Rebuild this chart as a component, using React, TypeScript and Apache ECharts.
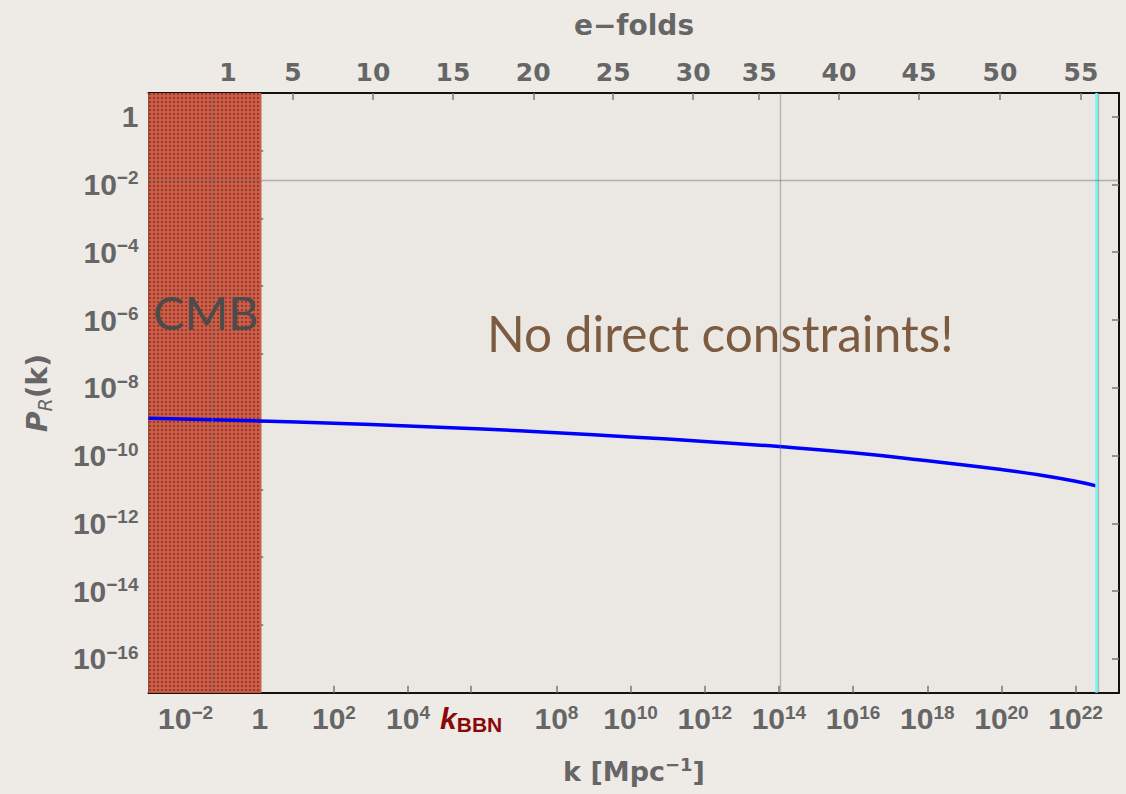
import React, { useEffect, useRef } from 'react';
import * as echarts from 'echarts';

// log10 k [Mpc^-1] and log10 P_R(k)
const logK = [-3, -1, 0, 2, 4, 6, 8, 10, 12, 14, 16, 18, 20, 21, 22, 22.55];
const logP = [-8.9, -8.95, -8.98, -9.048, -9.126, -9.218, -9.326, -9.45, -9.586, -9.736, -9.92, -10.154, -10.414, -10.569, -10.759, -10.894];

const xRange = [-3, 23.17];
const yRange = [-17, 0.7];
const cmbRange = [-3, 0.04];
const kBBN = 5.7;
const bottomTicks = [-2, 0, 2, 4, kBBN, 8, 10, 12, 14, 16, 18, 20, 22];
const majorY = [0, -2, -4, -6, -8, -10, -12, -14, -16];
const minorY = [-1, -3, -5, -7, -9, -11, -13, -15];
const efoldLabels = [1, 5, 10, 15, 20, 25, 30, 35, 40, 45, 50, 55];
const efoldLogK = [-0.857, 0.896, 3.053, 5.21, 7.375, 9.532, 11.689, 13.468, 15.617, 17.774, 19.958, 22.142];
const gridLinesX = [-1.28, 14.03, 22.6];
const gridLinesY = [-1.87];
const cyanLineX = 22.56;

const GRAY = '#666666';
const LS = '"Liberation Sans", Arial, sans-serif';
const DJ = '"DejaVu Sans", sans-serif';

const tickRich = {
  b: { fontSize: 30, fontWeight: 'bold', fontFamily: LS, color: GRAY, lineHeight: 32 },
  s: { fontSize: 19, fontWeight: 'bold', fontFamily: LS, color: GRAY, lineHeight: 15, verticalAlign: 'top' },
  kb: { fontSize: 30, fontWeight: 'bold', fontStyle: 'italic', fontFamily: LS, color: '#8a0808', lineHeight: 32 },
  ks: { fontSize: 21, fontWeight: 'bold', fontFamily: LS, color: '#8a0808', lineHeight: 18, verticalAlign: 'bottom' },
};

function powLabel(v: number) {
  if (Math.abs(v - kBBN) < 1e-6) return '{kb|k}{ks|BBN}';
  const e = Math.round(v);
  if (e === 0) return '{b|1}';
  return '{b|10}{s|' + (e < 0 ? '\u2212' + -e : String(e)) + '}';
}

export default function App() {
  const ref = useRef<HTMLDivElement>(null);
  useEffect(() => {
    document.body.style.margin = '0';
    if (!ref.current) return;
    const chart = echarts.init(ref.current, undefined, { renderer: 'svg' });

    const cv = document.createElement('canvas');
    cv.width = 4;
    cv.height = 4;
    const ctx = cv.getContext('2d');
    if (ctx) {
      ctx.fillStyle = '#cd604a';
      ctx.fillRect(0, 0, 4, 4);
      ctx.fillStyle = '#9e3b2b';
      ctx.beginPath();
      ctx.arc(2, 2, 1.25, 0, Math.PI * 2);
      ctx.fill();
    }
    const pattern: any = { image: cv, repeat: 'repeat', imageWidth: 4, imageHeight: 4 };

    const axisLine = { show: true, onZero: false, lineStyle: { color: '#111', width: 2 } };
    const tickStyle = { color: '#777', width: 1.5 };

    const option: any = {
      animation: false,
      backgroundColor: '#eeebe6',
      grid: { left: 148.5, right: 7, top: 93, bottom: 101.3, show: true, backgroundColor: '#ebe8e3', borderWidth: 0 },
      xAxis: [
        {
          type: 'value', position: 'bottom', min: xRange[0], max: xRange[1],
          axisLine,
          axisTick: { show: true, inside: true, length: 7, customValues: bottomTicks, lineStyle: tickStyle },
          axisLabel: { show: true, customValues: bottomTicks, margin: 10, formatter: powLabel, rich: tickRich },
          splitLine: { show: false },
        },
        {
          type: 'value', position: 'top', min: xRange[0], max: xRange[1],
          axisLine,
          axisTick: { show: true, inside: true, length: 7, customValues: efoldLogK, lineStyle: tickStyle },
          axisLabel: {
            show: true, customValues: efoldLogK, margin: 8,
            fontSize: 25, fontWeight: 'bold', fontFamily: DJ, color: GRAY,
            formatter: (v: number) => {
              const i = efoldLogK.findIndex((x) => Math.abs(x - v) < 1e-4);
              return i >= 0 ? String(efoldLabels[i]) : '';
            },
          },
          splitLine: { show: false },
        },
      ],
      yAxis: [
        {
          type: 'value', position: 'left', min: yRange[0], max: yRange[1],
          axisLine,
          axisTick: { show: true, inside: true, length: 7, customValues: majorY, lineStyle: tickStyle },
          axisLabel: { show: true, customValues: majorY, margin: 10, formatter: powLabel, rich: tickRich },
          splitLine: { show: false },
        },
        {
          type: 'value', position: 'left', min: yRange[0], max: yRange[1],
          axisLine: { show: false },
          axisTick: { show: true, inside: true, length: 3.5, customValues: minorY, lineStyle: tickStyle },
          axisLabel: { show: false },
          splitLine: { show: false },
        },
        {
          type: 'value', position: 'right', min: yRange[0], max: yRange[1],
          axisLine,
          axisTick: { show: true, inside: true, length: 7, customValues: majorY, lineStyle: tickStyle },
          axisLabel: { show: false },
          splitLine: { show: false },
        },
        {
          type: 'value', position: 'right', min: yRange[0], max: yRange[1],
          axisLine: { show: false },
          axisTick: { show: true, inside: true, length: 3.5, customValues: minorY, lineStyle: tickStyle },
          axisLabel: { show: false },
          splitLine: { show: false },
        },
      ],
      series: [
        {
          type: 'custom', xAxisIndex: 0, yAxisIndex: 0, z: 1, silent: true,
          data: [[cmbRange[0], cmbRange[1]]],
          renderItem: (params: any, api: any) => {
            const p0 = api.coord([api.value(0), yRange[1]]);
            const p1 = api.coord([api.value(1), yRange[0]]);
            const shape = { x: p0[0], y: p0[1], width: p1[0] - p0[0], height: p1[1] - p0[1] };
            return {
              type: 'group',
              children: [
                { type: 'rect', shape, style: { fill: '#c45640' } },
                { type: 'rect', shape, style: { fill: pattern } },
              ],
            };
          },
          markLine: {
            silent: true, symbol: ['none', 'none'], label: { show: false },
            lineStyle: { color: '#6ef7f7', width: 2.5, type: 'solid' },
            data: [{ xAxis: cyanLineX }],
          },
        },
        {
          type: 'line', xAxisIndex: 0, yAxisIndex: 0, z: 3,
          data: logK.map((k, i) => [k, logP[i]]),
          showSymbol: false, smooth: 0.5,
          lineStyle: { color: '#0000ff', width: 3.5 },
          markLine: {
            silent: true, symbol: ['none', 'none'], label: { show: false },
            lineStyle: { color: 'rgba(110,110,110,0.45)', width: 1.3, type: 'solid' },
            data: [...gridLinesX.map((x) => ({ xAxis: x })), ...gridLinesY.map((y) => ({ yAxis: y }))],
          },
        },
      ],
      graphic: [
        {
          type: 'text', x: 153, y: 312, z: 10,
          style: { text: 'CMB', fontSize: 47, fontFamily: 'Lato, sans-serif', fill: '#4b4b4b', align: 'left', verticalAlign: 'middle' },
        },
        {
          type: 'text', x: 487, y: 333, z: 10,
          style: { text: 'No direct constraints!', fontSize: 49.5, fontFamily: 'Lato, sans-serif', fill: '#7d5b40', align: 'left', verticalAlign: 'middle' },
        },
        {
          type: 'text', x: 634, y: 25, z: 10,
          style: { text: 'e\u2212folds', fontSize: 28, fontWeight: 'bold', fontFamily: DJ, fill: GRAY, align: 'center', verticalAlign: 'middle' },
        },
        {
          type: 'text', x: 634, y: 771, z: 10,
          style: {
            text: '{a|k [Mpc}{s|\u22121}{a|]}', align: 'center', verticalAlign: 'middle',
            rich: {
              a: { fontSize: 27, fontWeight: 'bold', fontFamily: DJ, fill: GRAY, lineHeight: 32 },
              s: { fontSize: 18, fontWeight: 'bold', fontFamily: DJ, fill: GRAY, lineHeight: 14, verticalAlign: 'top' },
            },
          },
        },
        {
          type: 'text', x: 37, y: 393, rotation: Math.PI / 2, z: 10,
          style: {
            text: '{p|P}{r|R}{k|(k)}', align: 'center', verticalAlign: 'middle',
            rich: {
              p: { fontSize: 28, fontWeight: 'bold', fontStyle: 'italic', fontFamily: DJ, fill: GRAY, lineHeight: 34 },
              r: { fontSize: 19, fontStyle: 'italic', fontFamily: DJ, fill: GRAY, lineHeight: 14, verticalAlign: 'bottom' },
              k: { fontSize: 28, fontWeight: 'bold', fontFamily: DJ, fill: GRAY, lineHeight: 34 },
            },
          },
        },
      ],
    };
    chart.setOption(option);
    return () => chart.dispose();
  }, []);
  return <div ref={ref} style={{ width: 1126, height: 794 }} />;
}
